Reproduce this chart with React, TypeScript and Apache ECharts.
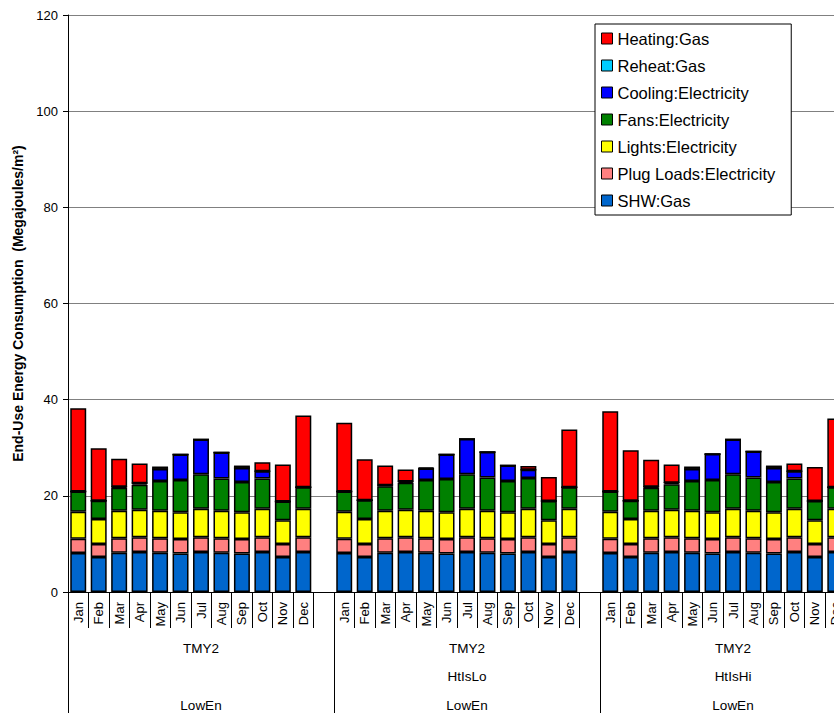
import React, { useEffect, useRef } from "react";
import * as echarts from "echarts";

// ---- data ----
const months = ["Jan", "Feb", "Mar", "Apr", "May", "Jun", "Jul", "Aug", "Sep", "Oct", "Nov", "Dec"];
const weatherLabels = ["TMY2", "TMY2", "TMY2"];
const islandLabels = ["", "HtIsLo", "HtIsHi"];
const caseLabels = ["LowEn", "LowEn", "LowEn"];
const yTicks = [0, 20, 40, 60, 80, 100, 120];

const seriesNames = [
  "Heating:Gas",
  "Reheat:Gas",
  "Cooling:Electricity",
  "Fans:Electricity",
  "Lights:Electricity",
  "Plug Loads:Electricity",
  "SHW:Gas",
];

// shared components (same in every scenario)
const shwGas = [8.1, 7.3, 8.15, 8.3, 8.15, 8.0, 8.3, 8.15, 8.0, 8.3, 7.3, 8.3];
const plugLoads = [3.0, 2.7, 3.05, 3.1, 3.05, 3.0, 3.1, 3.05, 3.0, 3.1, 2.7, 3.1];
const lights = [5.6, 5.2, 5.7, 5.7, 5.7, 5.6, 5.9, 5.7, 5.6, 5.9, 4.9, 5.9];
const reheat = [0, 0, 0, 0, 0, 0, 0, 0, 0, 0, 0, 0];

// scenario: TMY2 / LowEn
const fansBase = [4.2, 3.8, 4.8, 5.2, 6.2, 6.7, 7.2, 6.7, 6.3, 6.3, 3.9, 4.5];
const coolingBase = [0, 0, 0.2, 0.3, 2.5, 5.3, 7.2, 5.4, 2.9, 1.5, 0, 0];
const heatingBase = [17.3, 10.9, 5.8, 4.1, 0.5, 0, 0, 0, 0.5, 1.9, 7.7, 14.9];

// scenario: TMY2 / HtIsLo / LowEn
const fansLo = [4.2, 3.9, 5.1, 5.6, 6.4, 6.9, 7.2, 6.9, 6.5, 6.4, 4.0, 4.5];
const coolingLo = [0, 0, 0.2, 0.3, 2.4, 5.1, 7.3, 5.3, 3.2, 1.7, 0, 0];
const heatingLo = [14.3, 8.5, 4.1, 2.5, 0.2, 0, 0, 0, 0, 0.8, 5.0, 12.0];

// scenario: TMY2 / HtIsHi / LowEn
const fansHi = [4.2, 3.8, 4.8, 5.3, 6.2, 6.7, 7.2, 6.9, 6.3, 6.3, 4.0, 4.5];
const coolingHi = [0, 0, 0.2, 0.3, 2.5, 5.4, 7.2, 5.4, 2.9, 1.5, 0, 0];
const heatingHi = [16.7, 10.5, 5.6, 3.8, 0.5, 0, 0, 0, 0.5, 1.6, 7.1, 14.3];

const colors: Record<string, string> = {
  "Heating:Gas": "#FF0000",
  "Reheat:Gas": "#00CCFF",
  "Cooling:Electricity": "#0000FF",
  "Fans:Electricity": "#008000",
  "Lights:Electricity": "#FFFF00",
  "Plug Loads:Electricity": "#FF8080",
  "SHW:Gas": "#0066CC",
};

// ---- helpers ----
const FONT = "'Liberation Sans', Arial, Helvetica, sans-serif";

function expand(a: (number | null)[], b: (number | null)[], c: (number | null)[]) {
  return [...a, null, ...b, null, ...c, null];
}

const categoryLabels: string[] = [...months, "", ...months, "", ...months, ""];

const seriesData: Record<string, (number | null)[]> = {
  "SHW:Gas": expand(shwGas, shwGas, shwGas),
  "Plug Loads:Electricity": expand(plugLoads, plugLoads, plugLoads),
  "Lights:Electricity": expand(lights, lights, lights),
  "Fans:Electricity": expand(fansBase, fansLo, fansHi),
  "Cooling:Electricity": expand(coolingBase, coolingLo, coolingHi),
  "Reheat:Gas": expand(reheat, reheat, reheat),
  "Heating:Gas": expand(heatingBase, heatingLo, heatingHi),
};

const stackOrder = [
  "SHW:Gas",
  "Plug Loads:Electricity",
  "Lights:Electricity",
  "Fans:Electricity",
  "Cooling:Electricity",
  "Reheat:Gas",
  "Heating:Gas",
];

export default function App() {
  const ref = useRef<HTMLDivElement>(null);

  useEffect(() => {
    if (!ref.current) return;
    const chart = echarts.init(ref.current, undefined, { renderer: "svg" });

    const groupAxis = (labels: string[], margin: number, showTick: boolean) => ({
      type: "category",
      gridIndex: 0,
      position: "bottom",
      data: labels.map((_, i) => "g" + i),
      axisLine: { show: false },
      axisTick: {
        show: showTick,
        interval: 0,
        length: 121,
        lineStyle: { color: "#000", width: 1 },
      },
      axisLabel: {
        interval: 0,
        margin,
        formatter: (_v: string, i: number) => labels[i],
        color: "#000",
        fontFamily: FONT,
        fontSize: 13.5,
      },
      splitLine: { show: false },
    });

    chart.setOption({
      animation: false,
      backgroundColor: "#fff",
      textStyle: { fontFamily: FONT },
      grid: { left: 68, top: 15, width: 798, height: 577, containLabel: false },
      legend: {
        data: seriesNames,
        orient: "vertical",
        left: 595,
        top: 24,
        itemWidth: 11,
        itemHeight: 11,
        itemGap: 10,
        padding: [6, 16, 6, 6],
        icon: "rect",
        backgroundColor: "#fff",
        borderColor: "#000",
        borderWidth: 1,
        borderRadius: 0,
        itemStyle: { borderColor: "#000", borderWidth: 1 },
        textStyle: { fontFamily: FONT, fontSize: 16.5, color: "#000" },
      },
      xAxis: [
        {
          type: "category",
          data: categoryLabels.map((_, i) => "c" + i),
          axisLine: { show: true, lineStyle: { color: "#000", width: 1 } },
          axisTick: { show: true, interval: 0, length: 36, lineStyle: { color: "#000", width: 1 } },
          axisLabel: {
            interval: 0,
            rotate: 90,
            margin: 10,
            formatter: (_v: string, i: number) => categoryLabels[i],
            color: "#000",
            fontFamily: FONT,
            fontSize: 13,
          },
          splitLine: { show: false },
        },
        groupAxis(weatherLabels, 49, true),
        groupAxis(islandLabels, 77, false),
        groupAxis(caseLabels, 106, false),
      ],
      yAxis: {
        type: "value",
        min: yTicks[0],
        max: yTicks[yTicks.length - 1],
        interval: 20,
        name: "End-Use Energy Consumption  (Megajoules/m²)",
        nameLocation: "middle",
        nameGap: 42,
        nameTextStyle: { fontFamily: FONT, fontSize: 14, fontWeight: "bold", color: "#000" },
        axisLine: { show: true, lineStyle: { color: "#000", width: 1 } },
        axisTick: { show: true, length: 5, lineStyle: { color: "#000" } },
        axisLabel: { color: "#000", fontFamily: FONT, fontSize: 13, margin: 10 },
        splitLine: { show: true, lineStyle: { color: "#808080", width: 1 } },
      },
      series: stackOrder.map((name) => ({
        name,
        type: "bar",
        stack: "total",
        barCategoryGap: "22%",
        data: seriesData[name],
        itemStyle: { color: colors[name], borderColor: "#000", borderWidth: 1.5 },
        emphasis: { disabled: true },
      })),
    });

    return () => chart.dispose();
  }, []);

  return (
    <div
      style={{
        position: "fixed",
        left: 0,
        top: 0,
        width: 834,
        height: 713,
        overflow: "hidden",
        background: "#fff",
      }}
    >
      <div ref={ref} style={{ width: 900, height: 713 }} />
    </div>
  );
}
